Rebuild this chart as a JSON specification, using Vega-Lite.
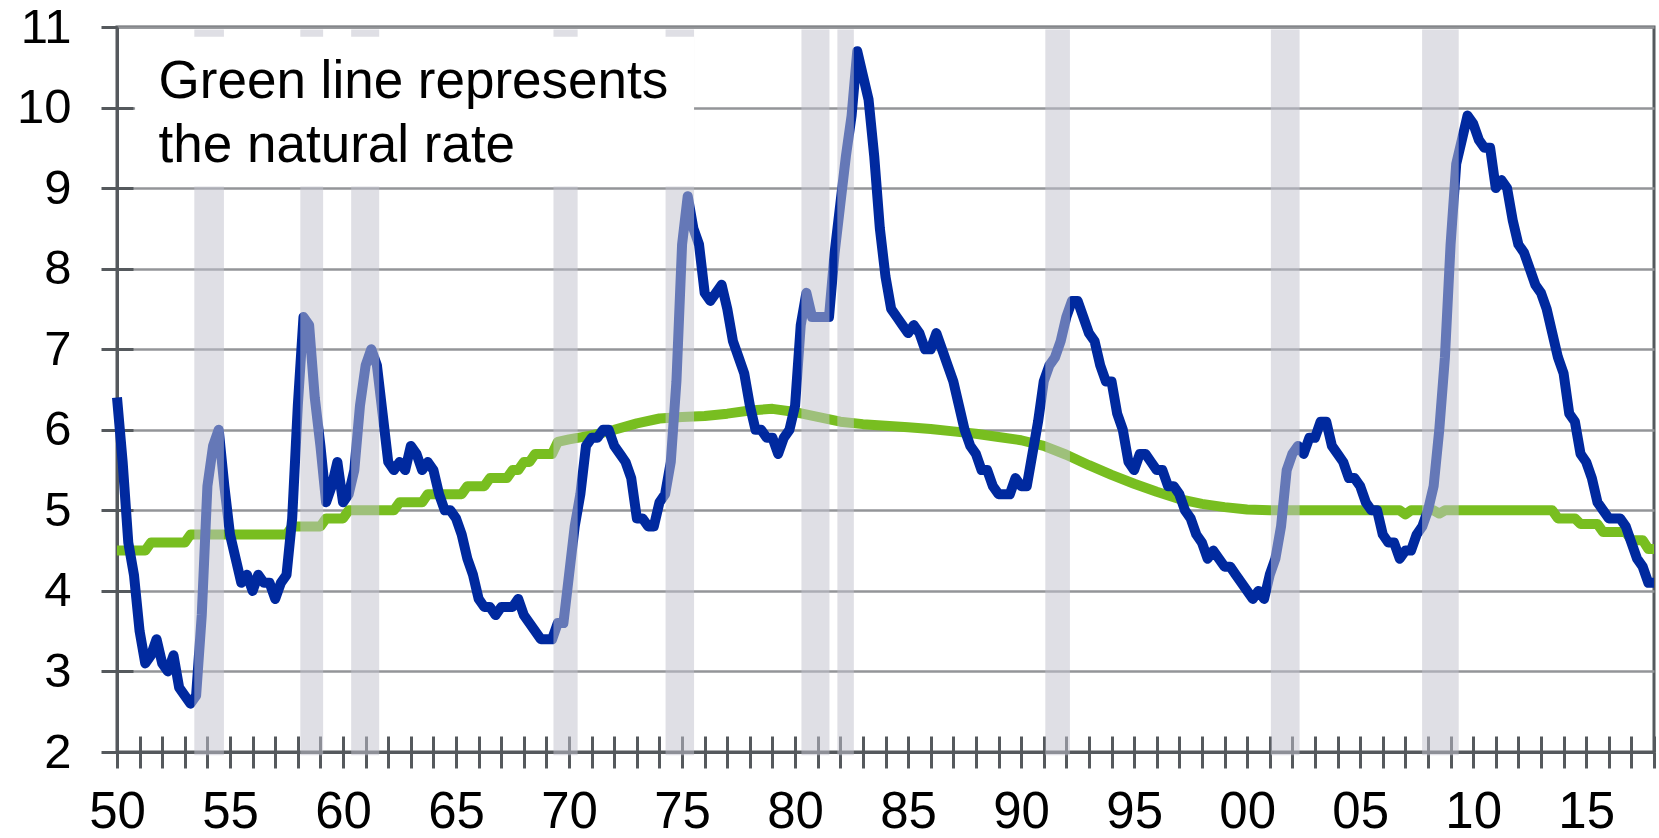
{
"$schema": "https://vega.github.io/schema/vega-lite/v6.json",
"width": 1537, "height": 725,
"autosize": {"type": "none"},
"padding": {"left": 117, "top": 27, "right": 5, "bottom": 86},
"background": "white",
"config": {"view": {"stroke": "#55595d", "strokeWidth": 3}, "font": "Liberation Sans"},
"datasets": {
"ur": [
{"t":1950,"u":6.4},{"t":1950.25,"u":5.6},{"t":1950.5,"u":4.6},{"t":1950.75,"u":4.2},
{"t":1951,"u":3.5},{"t":1951.25,"u":3.1},{"t":1951.5,"u":3.2},{"t":1951.75,"u":3.4},
{"t":1952,"u":3.1},{"t":1952.25,"u":3.0},{"t":1952.5,"u":3.2},{"t":1952.75,"u":2.8},
{"t":1953,"u":2.7},{"t":1953.25,"u":2.6},{"t":1953.5,"u":2.7},{"t":1953.75,"u":3.7},
{"t":1954,"u":5.3},{"t":1954.25,"u":5.8},{"t":1954.5,"u":6.0},{"t":1954.75,"u":5.3},
{"t":1955,"u":4.7},{"t":1955.25,"u":4.4},{"t":1955.5,"u":4.1},{"t":1955.75,"u":4.2},
{"t":1956,"u":4.0},{"t":1956.25,"u":4.2},{"t":1956.5,"u":4.1},{"t":1956.75,"u":4.1},
{"t":1957,"u":3.9},{"t":1957.25,"u":4.1},{"t":1957.5,"u":4.2},{"t":1957.75,"u":4.9},
{"t":1958,"u":6.3},{"t":1958.25,"u":7.4},{"t":1958.5,"u":7.3},{"t":1958.75,"u":6.4},
{"t":1959,"u":5.8},{"t":1959.25,"u":5.1},{"t":1959.5,"u":5.3},{"t":1959.75,"u":5.6},
{"t":1960,"u":5.1},{"t":1960.25,"u":5.2},{"t":1960.5,"u":5.5},{"t":1960.75,"u":6.3},
{"t":1961,"u":6.8},{"t":1961.25,"u":7.0},{"t":1961.5,"u":6.8},{"t":1961.75,"u":6.2},
{"t":1962,"u":5.6},{"t":1962.25,"u":5.5},{"t":1962.5,"u":5.6},{"t":1962.75,"u":5.5},
{"t":1963,"u":5.8},{"t":1963.25,"u":5.7},{"t":1963.5,"u":5.5},{"t":1963.75,"u":5.6},
{"t":1964,"u":5.5},{"t":1964.25,"u":5.2},{"t":1964.5,"u":5.0},{"t":1964.75,"u":5.0},
{"t":1965,"u":4.9},{"t":1965.25,"u":4.7},{"t":1965.5,"u":4.4},{"t":1965.75,"u":4.2},
{"t":1966,"u":3.9},{"t":1966.25,"u":3.8},{"t":1966.5,"u":3.8},{"t":1966.75,"u":3.7},
{"t":1967,"u":3.8},{"t":1967.25,"u":3.8},{"t":1967.5,"u":3.8},{"t":1967.75,"u":3.9},
{"t":1968,"u":3.7},{"t":1968.25,"u":3.6},{"t":1968.5,"u":3.5},{"t":1968.75,"u":3.4},
{"t":1969,"u":3.4},{"t":1969.25,"u":3.4},{"t":1969.5,"u":3.6},{"t":1969.75,"u":3.6},
{"t":1970,"u":4.2},{"t":1970.25,"u":4.8},{"t":1970.5,"u":5.2},{"t":1970.75,"u":5.8},
{"t":1971,"u":5.9},{"t":1971.25,"u":5.9},{"t":1971.5,"u":6.0},{"t":1971.75,"u":6.0},
{"t":1972,"u":5.8},{"t":1972.25,"u":5.7},{"t":1972.5,"u":5.6},{"t":1972.75,"u":5.4},
{"t":1973,"u":4.9},{"t":1973.25,"u":4.9},{"t":1973.5,"u":4.8},{"t":1973.75,"u":4.8},
{"t":1974,"u":5.1},{"t":1974.25,"u":5.2},{"t":1974.5,"u":5.6},{"t":1974.75,"u":6.6},
{"t":1975,"u":8.3},{"t":1975.25,"u":8.9},{"t":1975.5,"u":8.5},{"t":1975.75,"u":8.3},
{"t":1976,"u":7.7},{"t":1976.25,"u":7.6},{"t":1976.5,"u":7.7},{"t":1976.75,"u":7.8},
{"t":1977,"u":7.5},{"t":1977.25,"u":7.1},{"t":1977.5,"u":6.9},{"t":1977.75,"u":6.7},
{"t":1978,"u":6.3},{"t":1978.25,"u":6.0},{"t":1978.5,"u":6.0},{"t":1978.75,"u":5.9},
{"t":1979,"u":5.9},{"t":1979.25,"u":5.7},{"t":1979.5,"u":5.9},{"t":1979.75,"u":6.0},
{"t":1980,"u":6.3},{"t":1980.25,"u":7.3},{"t":1980.5,"u":7.7},{"t":1980.75,"u":7.4},
{"t":1981,"u":7.4},{"t":1981.25,"u":7.4},{"t":1981.5,"u":7.4},{"t":1981.75,"u":8.2},
{"t":1982,"u":8.8},{"t":1982.25,"u":9.4},{"t":1982.5,"u":9.9},{"t":1982.75,"u":10.7},
{"t":1983,"u":10.4},{"t":1983.25,"u":10.1},{"t":1983.5,"u":9.4},{"t":1983.75,"u":8.5},
{"t":1984,"u":7.9},{"t":1984.25,"u":7.5},{"t":1984.5,"u":7.4},{"t":1984.75,"u":7.3},
{"t":1985,"u":7.2},{"t":1985.25,"u":7.3},{"t":1985.5,"u":7.2},{"t":1985.75,"u":7.0},
{"t":1986,"u":7.0},{"t":1986.25,"u":7.2},{"t":1986.5,"u":7.0},{"t":1986.75,"u":6.8},
{"t":1987,"u":6.6},{"t":1987.25,"u":6.3},{"t":1987.5,"u":6.0},{"t":1987.75,"u":5.8},
{"t":1988,"u":5.7},{"t":1988.25,"u":5.5},{"t":1988.5,"u":5.5},{"t":1988.75,"u":5.3},
{"t":1989,"u":5.2},{"t":1989.25,"u":5.2},{"t":1989.5,"u":5.2},{"t":1989.75,"u":5.4},
{"t":1990,"u":5.3},{"t":1990.25,"u":5.3},{"t":1990.5,"u":5.7},{"t":1990.75,"u":6.1},
{"t":1991,"u":6.6},{"t":1991.25,"u":6.8},{"t":1991.5,"u":6.9},{"t":1991.75,"u":7.1},
{"t":1992,"u":7.4},{"t":1992.25,"u":7.6},{"t":1992.5,"u":7.6},{"t":1992.75,"u":7.4},
{"t":1993,"u":7.2},{"t":1993.25,"u":7.1},{"t":1993.5,"u":6.8},{"t":1993.75,"u":6.6},
{"t":1994,"u":6.6},{"t":1994.25,"u":6.2},{"t":1994.5,"u":6.0},{"t":1994.75,"u":5.6},
{"t":1995,"u":5.5},{"t":1995.25,"u":5.7},{"t":1995.5,"u":5.7},{"t":1995.75,"u":5.6},
{"t":1996,"u":5.5},{"t":1996.25,"u":5.5},{"t":1996.5,"u":5.3},{"t":1996.75,"u":5.3},
{"t":1997,"u":5.2},{"t":1997.25,"u":5.0},{"t":1997.5,"u":4.9},{"t":1997.75,"u":4.7},
{"t":1998,"u":4.6},{"t":1998.25,"u":4.4},{"t":1998.5,"u":4.5},{"t":1998.75,"u":4.4},
{"t":1999,"u":4.3},{"t":1999.25,"u":4.3},{"t":1999.5,"u":4.2},{"t":1999.75,"u":4.1},
{"t":2000,"u":4.0},{"t":2000.25,"u":3.9},{"t":2000.5,"u":4.0},{"t":2000.75,"u":3.9},
{"t":2001,"u":4.2},{"t":2001.25,"u":4.4},{"t":2001.5,"u":4.8},{"t":2001.75,"u":5.5},
{"t":2002,"u":5.7},{"t":2002.25,"u":5.8},{"t":2002.5,"u":5.7},{"t":2002.75,"u":5.9},
{"t":2003,"u":5.9},{"t":2003.25,"u":6.1},{"t":2003.5,"u":6.1},{"t":2003.75,"u":5.8},
{"t":2004,"u":5.7},{"t":2004.25,"u":5.6},{"t":2004.5,"u":5.4},{"t":2004.75,"u":5.4},
{"t":2005,"u":5.3},{"t":2005.25,"u":5.1},{"t":2005.5,"u":5.0},{"t":2005.75,"u":5.0},
{"t":2006,"u":4.7},{"t":2006.25,"u":4.6},{"t":2006.5,"u":4.6},{"t":2006.75,"u":4.4},
{"t":2007,"u":4.5},{"t":2007.25,"u":4.5},{"t":2007.5,"u":4.7},{"t":2007.75,"u":4.8},
{"t":2008,"u":5.0},{"t":2008.25,"u":5.3},{"t":2008.5,"u":6.0},{"t":2008.75,"u":6.9},
{"t":2009,"u":8.3},{"t":2009.25,"u":9.3},{"t":2009.5,"u":9.6},{"t":2009.75,"u":9.9},
{"t":2010,"u":9.8},{"t":2010.25,"u":9.6},{"t":2010.5,"u":9.5},{"t":2010.75,"u":9.5},
{"t":2011,"u":9.0},{"t":2011.25,"u":9.1},{"t":2011.5,"u":9.0},{"t":2011.75,"u":8.6},
{"t":2012,"u":8.3},{"t":2012.25,"u":8.2},{"t":2012.5,"u":8.0},{"t":2012.75,"u":7.8},
{"t":2013,"u":7.7},{"t":2013.25,"u":7.5},{"t":2013.5,"u":7.2},{"t":2013.75,"u":6.9},
{"t":2014,"u":6.7},{"t":2014.25,"u":6.2},{"t":2014.5,"u":6.1},{"t":2014.75,"u":5.7},
{"t":2015,"u":5.6},{"t":2015.25,"u":5.4},{"t":2015.5,"u":5.1},{"t":2015.75,"u":5.0},
{"t":2016,"u":4.9},{"t":2016.25,"u":4.9},{"t":2016.5,"u":4.9},{"t":2016.75,"u":4.8},
{"t":2017,"u":4.6},{"t":2017.25,"u":4.4},{"t":2017.5,"u":4.3},{"t":2017.75,"u":4.1},
{"t":2018,"u":4.1}
],
"nr": [
{"t":1950,"n":4.5},{"t":1951.25,"n":4.5},{"t":1951.5,"n":4.6},{"t":1953,"n":4.6},{"t":1953.25,"n":4.7},
{"t":1957.5,"n":4.7},{"t":1957.75,"n":4.8},{"t":1959,"n":4.8},{"t":1959.25,"n":4.9},{"t":1960,"n":4.9},
{"t":1960.25,"n":5.0},{"t":1962.25,"n":5.0},{"t":1962.5,"n":5.1},{"t":1963.5,"n":5.1},{"t":1963.75,"n":5.2},
{"t":1965.25,"n":5.2},{"t":1965.5,"n":5.3},{"t":1966.25,"n":5.3},{"t":1966.5,"n":5.4},{"t":1967.25,"n":5.4},
{"t":1967.5,"n":5.5},{"t":1967.75,"n":5.5},{"t":1968,"n":5.6},{"t":1968.25,"n":5.6},{"t":1968.5,"n":5.7},
{"t":1969.25,"n":5.7},{"t":1969.5,"n":5.85},{"t":1970,"n":5.88},{"t":1971,"n":5.93},{"t":1972,"n":6.0},
{"t":1973,"n":6.08},{"t":1974,"n":6.14},{"t":1975,"n":6.16},{"t":1976,"n":6.17},{"t":1977,"n":6.2},
{"t":1978,"n":6.24},{"t":1979,"n":6.26},{"t":1980,"n":6.22},{"t":1981,"n":6.16},{"t":1982,"n":6.1},
{"t":1983,"n":6.07},{"t":1984,"n":6.05},{"t":1985,"n":6.03},{"t":1986,"n":6.01},{"t":1987,"n":5.98},
{"t":1988,"n":5.95},{"t":1989,"n":5.91},{"t":1990,"n":5.87},{"t":1991,"n":5.8},{"t":1992,"n":5.69},
{"t":1993,"n":5.56},{"t":1994,"n":5.44},{"t":1995,"n":5.33},{"t":1996,"n":5.23},{"t":1997,"n":5.14},
{"t":1998,"n":5.08},{"t":1999,"n":5.04},{"t":2000,"n":5.01},{"t":2001,"n":5.0},{"t":2006.75,"n":5.0},
{"t":2007,"n":4.95},{"t":2007.25,"n":5.0},{"t":2008.25,"n":5.0},{"t":2008.5,"n":4.96},{"t":2008.75,"n":5.0},
{"t":2013.5,"n":5.0},{"t":2013.75,"n":4.9},{"t":2014.5,"n":4.9},{"t":2014.75,"n":4.83},{"t":2015.5,"n":4.83},
{"t":2015.75,"n":4.73},{"t":2016.75,"n":4.73},{"t":2017,"n":4.63},{"t":2017.5,"n":4.63},{"t":2017.75,"n":4.52},
{"t":2018,"n":4.52}
],
"rec": [
{"s":1953.42,"e":1954.73},{"s":1958.11,"e":1959.12},{"s":1960.36,"e":1961.6},{"s":1969.31,"e":1970.38},
{"s":1974.27,"e":1975.53},{"s":1980.28,"e":1981.52},{"s":1981.87,"e":1982.6},{"s":1991.07,"e":1992.16},
{"s":2001.05,"e":2002.32},{"s":2007.74,"e":2009.36}
],
"note": [{"label": "Green line represents\nthe natural rate"}]
},
"resolve": {"axis": {"x": "independent", "y": "independent"}},
"layer": [
{
"data": {"name": "nr"},
"mark": {"type": "line", "stroke": "#78be20", "strokeWidth": 10, "strokeJoin": "round", "strokeCap": "butt"},
"encoding": {
"x": {"field": "t", "type": "quantitative",
"scale": {"domain": [1950, 2018], "nice": false, "zero": false},
"axis": {"title": null, "grid": false,
"values": [1950,1951,1952,1953,1954,1955,1956,1957,1958,1959,1960,1961,1962,1963,1964,1965,1966,1967,1968,1969,1970,1971,1972,1973,1974,1975,1976,1977,1978,1979,1980,1981,1982,1983,1984,1985,1986,1987,1988,1989,1990,1991,1992,1993,1994,1995,1996,1997,1998,1999,2000,2001,2002,2003,2004,2005,2006,2007,2008,2009,2010,2011,2012,2013,2014,2015,2016,2017,2018],
"labelExpr": "datum.value % 5 == 0 ? (datum.value % 100 < 10 ? '0' + (datum.value % 100) : '' + (datum.value % 100)) : ''",
"tickSize": 16, "tickWidth": 3, "tickColor": "#55595d",
"domainColor": "#55595d", "domainWidth": 3,
"labelFontSize": 51, "labelColor": "#000000", "labelPadding": 19,
"labelOverlap": false, "labelFlush": false, "labelBound": false, "labelFont": "Liberation Sans"}},
"y": {"field": "n", "type": "quantitative",
"scale": {"domain": [2, 11], "nice": false, "zero": false},
"axis": {"title": null, "values": [2,3,4,5,6,7,8,9,10,11],
"grid": true, "gridColor": "#939598", "gridWidth": 2.5,
"tickSize": 16, "tickWidth": 3, "tickColor": "#55595d",
"domainColor": "#55595d", "domainWidth": 3,
"labelFontSize": 49, "labelColor": "#000000", "labelPadding": 30,
"labelFont": "Liberation Sans", "labelOverlap": false}}
}
},
{
"data": {"name": "ur"},
"mark": {"type": "line", "stroke": "#00299f", "strokeWidth": 10, "strokeJoin": "round"},
"encoding": {
"x": {"field": "t", "type": "quantitative",
"axis": {"orient": "bottom", "offset": -16, "title": null, "labels": false, "domain": false, "grid": false,
"values": [1950,1951,1952,1953,1954,1955,1956,1957,1958,1959,1960,1961,1962,1963,1964,1965,1966,1967,1968,1969,1970,1971,1972,1973,1974,1975,1976,1977,1978,1979,1980,1981,1982,1983,1984,1985,1986,1987,1988,1989,1990,1991,1992,1993,1994,1995,1996,1997,1998,1999,2000,2001,2002,2003,2004,2005,2006,2007,2008,2009,2010,2011,2012,2013,2014,2015,2016,2017,2018],
"tickSize": 16, "tickWidth": 3, "tickColor": "#55595d"}},
"y": {"field": "u", "type": "quantitative",
"axis": {"orient": "left", "offset": -16, "title": null, "labels": false, "domain": false, "grid": false,
"values": [3,4,5,6,7,8,9,10],
"tickSize": 16, "tickWidth": 3, "tickColor": "#55595d"}}
}
},
{
"data": {"name": "rec"},
"mark": {"type": "rect", "color": "#c1c1ce", "opacity": 0.52},
"encoding": {
"x": {"field": "s", "type": "quantitative", "axis": null},
"x2": {"field": "e"},
"y": {"datum": 1.96, "type": "quantitative", "axis": null},
"y2": {"datum": 10.97}
}
},
{
"data": {"name": "note"},
"mark": {"type": "rect", "color": "#ffffff", "opacity": 1},
"encoding": {
"x": {"datum": 1950.8, "type": "quantitative", "axis": null},
"x2": {"datum": 1975.53},
"y": {"datum": 9.02, "type": "quantitative", "axis": null},
"y2": {"datum": 10.88}
}
},
{
"data": {"name": "note"},
"mark": {"type": "text", "align": "left", "baseline": "alphabetic", "fontSize": 53, "lineHeight": 64, "lineBreak": "\n", "color": "#000000", "font": "Liberation Sans"},
"encoding": {
"x": {"datum": 1951.84, "type": "quantitative", "axis": null},
"y": {"datum": 10.12, "type": "quantitative", "axis": null},
"text": {"field": "label"}
}
}
]
}
